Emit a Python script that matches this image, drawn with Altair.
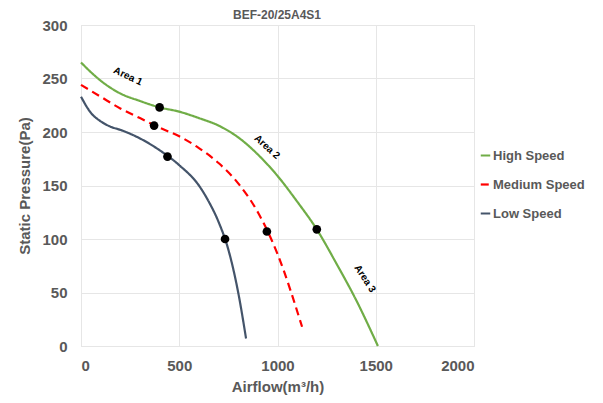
import altair as alt
import pandas as pd

# --- data ---
high_x = [0, 50, 100, 200, 300, 400, 500, 600, 700, 800, 900, 1000, 1100, 1200, 1300, 1400, 1511]
high_y = [265, 256, 248, 236, 229, 223, 219, 213, 206, 195, 179, 159, 135, 109, 77, 43, 0]
med_x = [0, 100, 200, 300, 400, 500, 600, 700, 800, 900, 1000, 1125]
med_y = [244, 233, 222, 213, 204, 196, 185, 171, 152, 125, 86, 18]
low_x = [0, 50, 100, 150, 200, 300, 400, 500, 600, 650, 700, 750, 800, 840]
low_y = [233, 218, 210, 205, 202, 194, 183, 169, 150, 135, 116, 90, 50, 7]

dot_x = [400, 372, 440, 1200, 946, 733]
dot_y = [223, 206, 177, 109, 107, 100]

area_labels = ["Area 1", "Area 2", "Area 3"]
area_x = [239, 947, 1445]
area_y = [252, 186, 63]
area_angle = [25, 42, 57]

series = ["High Speed", "Medium Speed", "Low Speed"]
colors = ["#70AD47", "#FF0000", "#44546A"]
dashes = [[1, 0], [8, 5], [1, 0]]

x_ticks = [0, 500, 1000, 1500, 2000]
y_ticks = [0, 50, 100, 150, 200, 250, 300]

chart_title = ["BEF-20/25A4S1"]

rows = []
for name, xs, ys in zip(series, [high_x, med_x, low_x], [high_y, med_y, low_y]):
    for i, (a, b) in enumerate(zip(xs, ys)):
        rows.append({"series": name, "x": a, "y": b, "i": i})
df = pd.DataFrame(rows)
dots = pd.DataFrame({"x": dot_x, "y": dot_y})
areas = pd.DataFrame({"label": area_labels, "x": area_x, "y": area_y, "angle": area_angle})
tdf = pd.DataFrame({"t": chart_title})

FONT = "Liberation Sans"
GREY = "#595959"

xscale = alt.Scale(domain=[0, 2000], nice=False)
yscale = alt.Scale(domain=[0, 300], nice=False)

axis_style = dict(labelFont=FONT, labelFontSize=15, labelFontWeight="bold", labelColor=GREY,
                  titleFont=FONT, titleFontSize=15, titleFontWeight="bold", titleColor=GREY,
                  grid=True, gridColor="#e6e6e6", domain=False, ticks=False, format="d")

lines = alt.Chart(df).mark_line(interpolate="monotone", strokeWidth=2.2).encode(
    x=alt.X("x:Q", scale=xscale,
            axis=alt.Axis(values=x_ticks, title="Airflow(m³/h)", labelPadding=12,
                          titlePadding=6, **axis_style)),
    y=alt.Y("y:Q", scale=yscale,
            axis=alt.Axis(values=y_ticks, title="Static Pressure(Pa)", labelPadding=14,
                          titlePadding=9, **axis_style)),
    color=alt.Color("series:N", scale=alt.Scale(domain=series, range=colors),
                    sort=series, title=None,
                    legend=alt.Legend(orient="none", legendX=398, legendY=124,
                                      symbolType="stroke", symbolSize=90,
                                      symbolStrokeWidth=2.2, labelFontSize=13,
                                      labelFont=FONT, labelFontWeight="bold",
                                      labelColor=GREY, rowPadding=15, labelOffset=1,
                                      symbolOffset=0)),
    strokeDash=alt.StrokeDash("series:N", scale=alt.Scale(domain=series, range=dashes),
                              sort=series, title=None, legend=None),
    order="i:Q",
)

points = alt.Chart(dots).mark_circle(color="black", opacity=1, size=75).encode(
    x=alt.X("x:Q", scale=xscale), y=alt.Y("y:Q", scale=yscale)
)

labels = alt.Chart(areas).mark_text(font=FONT, fontSize=10, fontWeight="bold",
                                    color="black").encode(
    x=alt.X("x:Q", scale=xscale), y=alt.Y("y:Q", scale=yscale),
    text="label:N", angle=alt.Angle("angle:Q", scale=None)
)

title = alt.Chart(tdf).mark_text(font=FONT, fontSize=12, fontWeight="bold", color=GREY,
                                 baseline="middle").encode(
    x=alt.value(196), y=alt.value(-10), text="t:N"
)

chart = (lines + points + labels + title).properties(
    width=393, height=321,
    autosize=alt.AutoSizeParams(type="none"),
    padding={"left": 73, "top": 17, "right": 121, "bottom": 49},
).configure_view(stroke=None).configure(background="white")

chart.save("out.html", embed_options={"renderer": "svg", "actions": False})
